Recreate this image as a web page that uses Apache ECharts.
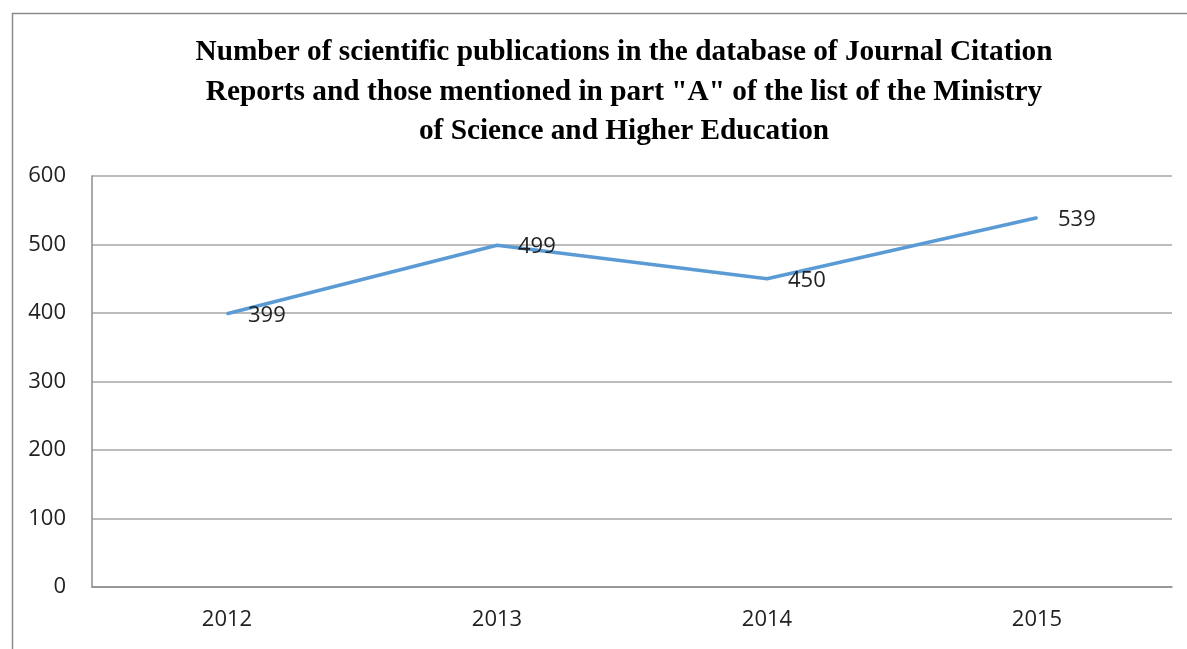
<!DOCTYPE html>
<html><head><meta charset="utf-8">
<script src="https://cdn.jsdelivr.net/npm/echarts@6/dist/echarts.min.js"></script>
<style>html,body{margin:0;padding:0;background:#fff}#c{width:1187px;height:649px}</style>
</head><body><div id="c"></div>
<script>
const titleText = 'Number of scientific publications in the database of Journal Citation\nReports and those mentioned in part "A" of the list of the Ministry\nof Science and Higher Education';
const categories = ['2012', '2013', '2014', '2015'];
const values = [399, 499, 450, 539];
const yTicks = [0, 100, 200, 300, 400, 500, 600];

const chart = echarts.init(document.getElementById('c'), null, {renderer: 'canvas'});
chart.setOption({
  animation: false,
  backgroundColor: '#fff',
  graphic: [{
    type: 'rect', left: 10, top: 11, silent: true,
    shape: {width: 1250, height: 700},
    style: {fill: 'none', stroke: '#8c8c8c', lineWidth: 1.5}
  }],
  title: {
    text: titleText, left: 619, top: 28, textAlign: 'center',
    textStyle: {fontFamily: 'Liberation Serif', fontWeight: 'bold', fontSize: 29.3, lineHeight: 39.5, color: '#000'}
  },
  grid: {left: 92, right: 15, top: 176, bottom: 62},
  xAxis: {
    type: 'category', data: categories, boundaryGap: true,
    axisLine: {lineStyle: {color: '#8c8c8c', width: 1.5}},
    axisTick: {show: false},
    axisLabel: {fontFamily: 'Open Sans', fontSize: 22, color: '#222', margin: 22}
  },
  yAxis: {
    type: 'value', min: yTicks[0], max: yTicks[yTicks.length - 1], interval: 100,
    axisLine: {show: true, lineStyle: {color: '#8c8c8c', width: 1.5}},
    axisTick: {show: false},
    splitLine: {lineStyle: {color: '#a6a6a6', width: 1.5}},
    axisLabel: {fontFamily: 'Open Sans', fontSize: 22, color: '#222', margin: 26}
  },
  series: [{
    type: 'line', data: values, symbol: 'circle', symbolSize: 2, showSymbol: true,
    itemStyle: {color: '#5b9bd5'},
    lineStyle: {color: '#5b9bd5', width: 3.5},
    label: {show: true, position: 'right', distance: 5, offset: [15, 2], fontFamily: 'Open Sans', fontSize: 22, color: '#222'}
  }]
});
</script></body></html>
